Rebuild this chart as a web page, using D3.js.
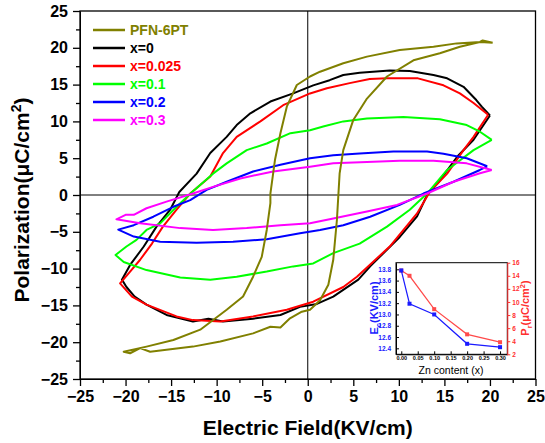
<!DOCTYPE html>
<html>
<head>
<meta charset="utf-8">
<script src="https://cdn.jsdelivr.net/npm/d3@7"></script>
<style>
  body { margin: 0; background: #fff; }
  svg { font-family: Arial, "Liberation Sans", sans-serif; }
</style>
</head>
<body>
<div id="chart"></div>
<script>
// P-E loops, [E (KV/cm), P (uC/cm2)]
const loopPFN = [[20.3,20.7],[19.2,21.0],[18.9,20.8],[16.35,20.6],[13.8,20.15],[10.1,19.7],[6.5,18.8],[3.9,17.9],[1.35,16.75],[0.25,16.1],[-1.2,14.95],[-2.3,12.0],[-3.0,8.4],[-3.6,4.75],[-4.1,0.2],[-4.1,-1.1],[-4.5,-4.75],[-5.05,-8.4],[-6.0,-11.1],[-7.1,-13.8],[-8.9,-15.6],[-11.8,-18.3],[-14.75,-19.7],[-17.7,-20.6],[-20.2,-21.3],[-19.5,-21.5],[-18.4,-20.8],[-17.3,-21.3],[-12.6,-20.6],[-9.6,-19.9],[-6.0,-18.8],[-4.1,-17.9],[-3.0,-18.0],[-1.95,-16.75],[-0.65,-15.85],[0.25,-15.6],[1.35,-14.3],[2.26,-12.2],[2.8,-8.8],[3.2,-3.4],[3.5,2.95],[3.9,6.1],[5.0,10.2],[6.5,13.1],[8.7,16.1],[11.6,18.3],[14.5,19.25],[16.7,20.15],[18.9,20.8],[20.3,20.7]];
const loopX0 = [[20.0,10.8],[19.1,12.0],[18.5,12.9],[17.1,14.7],[15.3,15.85],[13.8,16.3],[11.2,16.85],[9.0,16.9],[5.7,16.6],[3.9,16.3],[2.4,15.6],[0.6,14.9],[-1.6,13.8],[-4.1,12.7],[-6.3,11.1],[-7.8,9.5],[-8.9,7.9],[-10.7,5.7],[-12.2,2.9],[-14.1,0.4],[-15.1,-2.0],[-16.6,-4.3],[-18.0,-7.0],[-19.5,-9.5],[-20.4,-11.5],[-19.9,-12.5],[-19.0,-13.8],[-17.7,-14.9],[-15.5,-16.3],[-12.6,-17.2],[-10.9,-16.8],[-9.3,-17.2],[-6.0,-16.8],[-3.0,-16.3],[-0.85,-15.2],[1.0,-14.8],[2.8,-13.8],[5.55,-11.5],[6.85,-9.7],[10.1,-5.7],[12.0,-2.9],[13.1,0],[14.5,2.0],[16.4,5.2],[18.2,7.5],[20.0,10.8]];
const loopX025 = [[19.8,10.9],[18.2,12.5],[16.7,13.8],[14.9,14.9],[12.1,15.85],[8.7,15.85],[6.8,15.75],[4.6,15.2],[2.1,14.5],[0.25,13.8],[-2.7,12.2],[-5.2,10.0],[-7.8,7.9],[-9.3,5.7],[-10.7,2.5],[-12.9,0.2],[-14.4,-2.0],[-15.9,-4.3],[-17.1,-6.6],[-18.4,-8.8],[-19.5,-10.4],[-20.6,-12.0],[-19.3,-13.8],[-17.7,-14.9],[-14.4,-16.5],[-12.6,-17.0],[-9.6,-17.2],[-6.0,-16.5],[-2.3,-15.6],[0.6,-14.5],[3.9,-12.5],[5.4,-11.1],[9.0,-7.0],[12.0,-2.5],[13.4,0.45],[15.3,2.9],[17.1,6.1],[18.2,7.9],[19.8,10.9]];
const loopX1 = [[20.2,7.5],[18.9,8.6],[17.45,9.5],[14.5,10.3],[10.5,10.6],[6.5,10.4],[3.9,10.0],[1.7,9.3],[0.25,8.8],[-1.9,8.4],[-4.5,7.0],[-6.7,6.1],[-8.9,4.3],[-10.4,2.9],[-12.6,0.5],[-14.4,-1.6],[-16.2,-3.85],[-17.7,-4.75],[-18.8,-6.1],[-19.9,-7.0],[-21.1,-8.15],[-20.2,-9.1],[-17.7,-10.2],[-14.0,-11.2],[-10.7,-11.5],[-7.8,-11.1],[-4.5,-10.4],[-1.6,-9.7],[0.6,-9.3],[2.8,-7.9],[5.7,-6.6],[8.7,-4.3],[11.2,-2.0],[13.1,0.2],[15.3,3.4],[18.2,6.1],[20.2,7.5]];
const loopX2 = [[19.7,3.9],[17.45,5.0],[14.9,5.6],[13.1,5.9],[9.4,5.9],[5.7,5.65],[2.8,5.4],[0.25,5.0],[-3.0,4.1],[-6.0,3.2],[-8.9,1.8],[-11.1,0.7],[-12.9,-0.7],[-14.75,-1.6],[-16.95,-2.95],[-19.1,-4.1],[-20.8,-4.7],[-19.1,-5.65],[-16.2,-6.35],[-12.2,-6.5],[-8.2,-6.35],[-4.5,-6.0],[-0.85,-5.2],[1.35,-4.75],[3.9,-4.1],[6.85,-2.95],[10.1,-1.35],[12.7,0.2],[16.0,1.8],[18.9,3.4],[19.7,3.9]];
const loopX3 = [[20.2,3.4],[17.45,4.3],[13.8,4.66],[10.1,4.66],[6.5,4.5],[2.8,4.3],[0.25,3.85],[-3.8,3.2],[-7.4,2.25],[-10.4,1.1],[-12.6,0.2],[-15.5,-0.9],[-17.7,-1.8],[-19.1,-2.7],[-20.0,-2.7],[-21.0,-3.3],[-18.4,-3.85],[-14.0,-4.5],[-10.4,-4.75],[-6.7,-4.5],[-3.0,-4.1],[0.25,-3.85],[2.8,-3.2],[6.5,-2.25],[9.8,-1.35],[13.1,0.2],[16.0,1.8],[18.9,2.95],[20.2,3.4]];

const seriesNames = ["PFN-6PT", "x=0", "x=0.025", "x=0.1", "x=0.2", "x=0.3"];
const seriesColors = ["#808000", "#000000", "#ff0000", "#00ff00", "#0000ff", "#ff00ff"];
const seriesLoops = [loopPFN, loopX0, loopX025, loopX1, loopX2, loopX3];

const axisTicks = [-25, -20, -15, -10, -5, 0, 5, 10, 15, 20, 25];

// inset
const znContent = [0, 0.025, 0.1, 0.2, 0.3];
const ecValues = [13.78, 13.19, 13.0, 12.48, 12.42];
const prValues = [14.8, 14.0, 8.9, 5.05, 3.85];
const ecTicks = [12.4, 12.6, 12.8, 13.0, 13.2, 13.4, 13.6, 13.8];
const prTicks = [2, 4, 6, 8, 10, 12, 14, 16];
const znTicks = [0, 0.05, 0.1, 0.15, 0.2, 0.25, 0.3];

const W = 545, H = 443;
const svg = d3.select("#chart").append("svg").attr("width", W).attr("height", H);

const x = d3.scaleLinear().domain([-25, 25]).range([80, 535.5]);
const y = d3.scaleLinear().domain([-25, 25]).range([379, 11]);

// minor ticks
const minorTicks = axisTicks.slice(0, -1).map(d => d + 2.5);

svg.append("g").attr("transform", "translate(0,379)")
  .call(d3.axisBottom(x).tickValues(minorTicks).tickSize(4).tickFormat(""))
  .call(g => g.select(".domain").remove());
svg.append("g").attr("transform", "translate(80,0)")
  .call(d3.axisLeft(y).tickValues(minorTicks).tickSize(4).tickFormat(""))
  .call(g => g.select(".domain").remove());

const xAxis = svg.append("g").attr("transform", "translate(0,379)")
  .call(d3.axisBottom(x).tickValues(axisTicks).tickSize(7).tickSizeOuter(0).tickPadding(5));
xAxis.selectAll("text").style("font-size", "16px").style("font-weight", "bold").attr("fill", "#000");

const yAxis = svg.append("g").attr("transform", "translate(80,0)")
  .call(d3.axisLeft(y).tickValues(axisTicks).tickSize(7).tickSizeOuter(0).tickPadding(5));
yAxis.selectAll("text").style("font-size", "16px").style("font-weight", "bold").attr("fill", "#000");

svg.selectAll(".tick line").attr("stroke-width", 1.3);

// frame and zero lines
svg.append("rect").attr("x", x(-25)).attr("y", y(25))
  .attr("width", x(25) - x(-25)).attr("height", y(-25) - y(25))
  .attr("fill", "none").attr("stroke", "#000").attr("stroke-width", 1.3);
svg.append("line").attr("x1", x(-25)).attr("x2", x(25)).attr("y1", y(0)).attr("y2", y(0))
  .attr("stroke", "#000").attr("stroke-width", 1);
svg.append("line").attr("x1", x(0)).attr("x2", x(0)).attr("y1", y(25)).attr("y2", y(-25))
  .attr("stroke", "#000").attr("stroke-width", 1);

// loops
const line = d3.line().x(d => x(d[0])).y(d => y(d[1]));
const drawOrder = [1, 2, 3, 4, 5, 0];
drawOrder.forEach(i => {
  svg.append("path").datum(seriesLoops[i])
    .attr("d", line)
    .attr("fill", "none")
    .attr("stroke", seriesColors[i])
    .attr("stroke-width", 2)
    .attr("stroke-linejoin", "round");
});

// legend
const legend = svg.append("g").attr("transform", "translate(93,30)");
seriesNames.forEach((name, i) => {
  const row = legend.append("g").attr("transform", `translate(0,${i * 18})`);
  row.append("line").attr("x1", 0).attr("x2", 32).attr("y1", 0).attr("y2", 0)
    .attr("stroke", seriesColors[i]).attr("stroke-width", 2.5);
  row.append("text").attr("x", 37).attr("y", 5)
    .style("font-size", "14px").style("font-weight", "bold")
    .attr("fill", seriesColors[i]).text(name);
});

// axis titles
svg.append("text").attr("x", x(0)).attr("y", 435)
  .attr("text-anchor", "middle")
  .style("font-size", "21px").style("font-weight", "bold")
  .text("Electric Field(KV/cm)");

const yTitle = svg.append("text")
  .attr("transform", "translate(29,200) rotate(-90)")
  .attr("text-anchor", "middle")
  .style("font-size", "21px").style("font-weight", "bold");
yTitle.append("tspan").text("Polarization(μC/cm");
yTitle.append("tspan").attr("dy", -8).style("font-size", "14px").text("2");
yTitle.append("tspan").attr("dy", 8).text(")");

// inset
const ix = d3.scaleLinear().domain([-0.016, 0.322]).range([396, 507.3]);
const iyL = d3.scaleLinear().domain([12.294, 13.917]).range([354.3, 262.7]);
const iyR = d3.scaleLinear().domain([2, 16]).range([354.3, 262.7]);

const inset = svg.append("g");
inset.append("rect").attr("x", 396).attr("y", 262.7)
  .attr("width", 507.3 - 396).attr("height", 354.3 - 262.7)
  .attr("fill", "#fff").attr("stroke", "#000").attr("stroke-width", 1);

const ixAxis = inset.append("g").attr("transform", "translate(0,354.3)")
  .call(d3.axisBottom(ix).tickValues(znTicks).tickSize(-3).tickSizeOuter(0).tickPadding(2).tickFormat(d3.format(".2f")));
ixAxis.selectAll("text").style("font-size", "5.5px").style("font-weight", "bold").attr("fill", "#000");

const iyLAxis = inset.append("g").attr("transform", "translate(396,0)")
  .call(d3.axisLeft(iyL).tickValues(ecTicks).tickSize(-3).tickSizeOuter(0).tickPadding(5).tickFormat(d3.format(".1f")));
iyLAxis.selectAll("text").style("font-size", "6.5px").style("font-weight", "bold").attr("fill", "#2020ff");
iyLAxis.selectAll("line, path").attr("stroke", "#000");

const iyRAxis = inset.append("g").attr("transform", "translate(507.3,0)")
  .call(d3.axisRight(iyR).tickValues(prTicks).tickSize(3).tickSizeOuter(0).tickPadding(2));
iyRAxis.selectAll("text").style("font-size", "6.5px").style("font-weight", "bold").attr("fill", "#ff3030");
iyRAxis.selectAll("line, path").attr("stroke", "#ff3030");

const ecLine = d3.line().x((d, i) => ix(znContent[i])).y(d => iyL(d));
const prLine = d3.line().x((d, i) => ix(znContent[i])).y(d => iyR(d));

inset.append("path").datum(prValues).attr("d", prLine)
  .attr("fill", "none").attr("stroke", "#ff4a4a").attr("stroke-width", 1.2);
inset.selectAll(".prpt").data(prValues).enter().append("rect")
  .attr("x", (d, i) => ix(znContent[i]) - 2).attr("y", d => iyR(d) - 2)
  .attr("width", 4).attr("height", 4).attr("fill", "#ff4a4a");

inset.append("path").datum(ecValues).attr("d", ecLine)
  .attr("fill", "none").attr("stroke", "#1a1aff").attr("stroke-width", 1.2);
inset.selectAll(".ecpt").data(ecValues).enter().append("rect")
  .attr("x", (d, i) => ix(znContent[i]) - 2).attr("y", d => iyL(d) - 2)
  .attr("width", 4).attr("height", 4).attr("fill", "#1a1aff");

inset.append("text").attr("x", 451).attr("y", 374)
  .attr("text-anchor", "middle").style("font-size", "10.5px")
  .text("Zn content (x)");

const ecTitle = inset.append("text")
  .attr("transform", "translate(378,308) rotate(-90)")
  .attr("text-anchor", "middle")
  .style("font-size", "11px").style("font-weight", "bold").attr("fill", "#1a1aff");
ecTitle.append("tspan").text("E");
ecTitle.append("tspan").attr("dy", 3).style("font-size", "7.5px").text("c");
ecTitle.append("tspan").attr("dy", -3).text("(KV/cm)");

const prTitle = inset.append("text")
  .attr("transform", "translate(529,308) rotate(-90)")
  .attr("text-anchor", "middle")
  .style("font-size", "11px").style("font-weight", "bold").attr("fill", "#ff3030");
prTitle.append("tspan").text("P");
prTitle.append("tspan").attr("dy", 3).style("font-size", "7.5px").text("r");
prTitle.append("tspan").attr("dy", -3).text("(μC/cm");
prTitle.append("tspan").attr("dy", -4).style("font-size", "7.5px").text("2");
prTitle.append("tspan").attr("dy", 4).text(")");
</script>
</body>
</html>
